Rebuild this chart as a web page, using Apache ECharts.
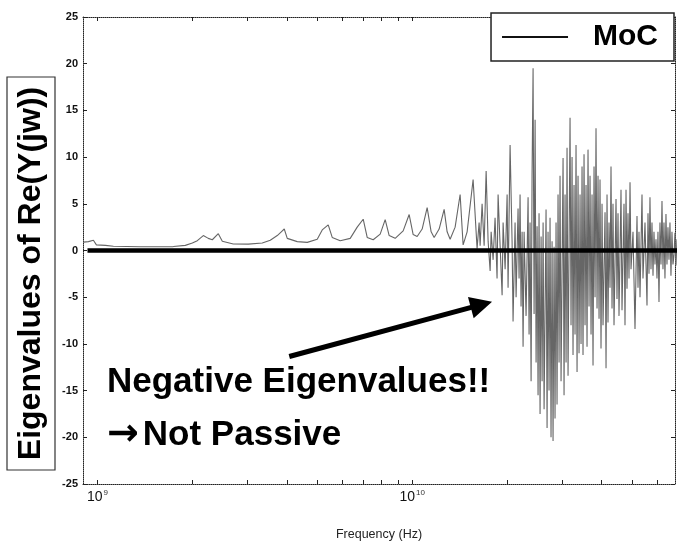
<!DOCTYPE html>
<html>
<head>
<meta charset="utf-8">
<script src="https://cdn.jsdelivr.net/npm/echarts@6/dist/echarts.min.js"></script>
<style>
  html, body { margin: 0; padding: 0; background: #fff; }
  #chart { width: 677px; height: 546px; }
</style>
</head>
<body>
<div id="chart"></div>
<script>
// Eigenvalues of Re(Y(jw)) from the MoC model, frequency in GHz.
// Below ~16 GHz: smooth curve with resonance peaks.
const lowFreqGHz = [
  0.9027, 0.9363, 0.9712, 0.9927, 1.0602, 1.1241, 1.3693, 1.7429, 1.9027, 2.0026,
  2.0771, 2.1702, 2.2510, 2.3178, 2.4217, 2.4936, 2.7024, 3.0156, 3.3405, 3.5417,
  3.7277, 3.8383, 3.9234, 4.0104, 4.3145, 4.6417, 4.9937, 5.1796, 5.4118, 5.5724,
  5.9079, 6.3560, 6.6897, 6.9896, 7.1970, 7.5197, 7.9145, 8.2091, 8.4527, 8.8317,
  9.3634, 9.7832, 10.0735, 10.3724, 10.7585, 11.1590, 11.4901, 11.7448, 12.1820, 12.6354,
  12.9156, 13.2020, 13.6935, 14.2031, 14.5180, 14.9488, 15.6190
];
const lowEig = [
  0.9, 0.95, 1.1, 0.6, 0.55, 0.45, 0.4, 0.42, 0.55, 0.8,
  1.05, 1.6, 1.3, 1.15, 1.8, 1.0, 0.7, 0.68, 0.8, 1.1,
  1.6, 2.0, 2.3, 1.3, 0.95, 0.87, 1.2, 2.2, 2.75, 1.4,
  1.05, 1.3, 2.5, 3.35, 1.4, 1.15, 1.75, 3.3, 1.6, 1.3,
  2.1, 3.85, 1.7, 1.5, 2.3, 4.6, 2.0, 1.4, 2.3, 4.4,
  2.0, 1.2, 2.5, 6.0, 0.6, 2.0, 7.6
];

// Above ~16 GHz: dense oscillation between positive and negative eigenvalues.
const highFreqGHz = [
  16.08, 16.32, 16.44, 16.68, 16.93, 17.18, 17.43, 17.69, 17.82, 18.08,
  18.34, 18.61, 18.75, 19.03, 19.31, 19.45, 19.74, 20.03, 20.17, 20.47,
  20.77, 20.92, 21.23, 21.39, 21.70, 21.86, 22.02, 22.18, 22.35, 22.51,
  22.68, 23.01, 23.35, 23.52, 23.69, 23.87, 24.04, 24.22, 24.40, 24.58,
  24.76, 24.94, 25.12, 25.30, 25.49, 25.68, 25.87, 26.06, 26.25, 26.63,
  26.83, 27.02, 27.22, 27.42, 27.62, 27.83, 28.03, 28.24, 28.44, 28.65,
  28.86, 29.07, 29.29, 29.50, 29.72, 30.16, 30.38, 30.60, 30.83, 31.05,
  31.28, 31.74, 31.97, 32.21, 32.44, 32.68, 32.92, 33.16, 33.41, 33.65,
  33.90, 34.15, 34.40, 34.65, 34.90, 35.16, 35.42, 35.68, 35.94, 36.20,
  36.47, 36.74, 37.01, 37.28, 37.55, 37.83, 38.11, 38.38, 38.67, 38.95,
  39.24, 39.52, 39.81, 40.11, 40.40, 41.00, 41.30, 41.60, 41.90, 42.21,
  42.52, 42.83, 43.15, 43.46, 43.78, 44.43, 44.75, 45.08, 45.41, 46.08,
  46.42, 47.10, 47.45, 47.80, 48.15, 48.50, 48.86, 49.22, 49.58, 50.31,
  51.05, 51.80, 52.18, 52.56, 52.95, 53.73, 54.12, 54.92, 55.73, 56.14,
  56.55, 56.96, 57.38, 57.80, 58.23, 58.65, 59.08, 59.52, 59.95, 60.39,
  60.84, 61.28, 61.73, 62.19, 62.64, 63.10, 63.56, 64.03, 64.50, 64.97,
  65.45, 65.93, 66.41, 66.90, 67.39, 67.89, 68.38, 68.89, 69.39
];
const highEig = [
  0.2, 3.0, 0.5, 5.0, 0.5, 8.5, 1.0, -2.2, 2.0, -1.0,
  3.5, -3.0, 6.0, 0.5, -4.8, 3.0, -2.0, 6.0, -4.0, 11.3,
  1.0, -7.6, 3.0, -5.0, 4.5, -3.0, 6.0, -6.0, 2.0, -10.3,
  2.0, -7.0, 5.7, -9.0, 3.0, -14.0, 8.0, 19.5, -6.8, 14.0,
  -12.0, 2.6, -15.5, 4.0, -17.5, 1.5, -14.0, 3.0, -17.0, 4.4,
  -19.0, 2.0, -15.0, 3.5, -20.0, 1.0, -20.4, 0.4, -18.0, 3.0,
  -16.5, 6.0, -12.0, 8.0, -14.0, 9.9, -15.5, 6.0, -12.0, 11.0,
  -13.4, 14.2, -8.0, 10.0, -11.2, 7.0, -9.0, 11.3, -13.0, 8.0,
  -11.0, 6.0, -10.0, 9.0, -11.2, 10.3, -8.0, 7.0, -10.3, 10.8,
  -6.0, 8.0, -9.0, 6.0, -12.3, 9.0, -5.0, 13.1, -6.2, 8.0,
  -7.3, 7.6, -10.5, 5.0, -8.0, 4.1, -12.6, 6.0, -7.7, 3.0,
  -4.0, 9.0, -6.2, 5.0, -8.0, 5.5, -5.2, 4.0, -7.0, 6.5,
  -6.4, 5.0, -8.0, 6.5, -4.1, 4.0, -3.0, 7.3, -2.0, 2.0,
  -8.4, 3.7, -4.0, 2.0, -5.0, 6.0, -3.0, 3.0, -5.9, 4.0,
  -2.5, 5.7, -2.0, 3.0, -2.7, 2.0, -1.5, 1.2, -3.0, 2.0,
  -5.5, 3.0, -1.5, 5.3, -2.0, 3.0, -3.0, 3.9, -1.5, 2.5,
  -1.0, 3.0, -2.7, 2.0, -1.5, -0.5, 1.9, -1.6, 1.2
];

// Cluster of eigenvalues lying on zero across the band.
const zeroFreqGHz = [0.93, 69.4];
const zeroEig = [0, 0];

// Annotation arrow: from the caption towards the negative region (GHz, value).
const arrowFromGHz = 4.07, arrowFromVal = -11.35;
const arrowToGHz = 16.6, arrowToVal = -5.8;

// Axis ticks
const xLabelTicksHz = [1e9, 1e10];
const xTickHz = [1e9, 2e9, 3e9, 4e9, 5e9, 6e9, 7e9, 8e9, 9e9,
                 1e10, 2e10, 3e10, 4e10, 5e10, 6e10];
const yMin = -25, yMax = 25, yStep = 5;

const GHZ = 1e9;
const zip = (fs, vs) => fs.map((f, i) => [f * GHZ, vs[i]]);
const mocData = zip(lowFreqGHz, lowEig).concat(zip(highFreqGHz, highEig));
const zeroData = zip(zeroFreqGHz, zeroEig);

const FONT = '"Liberation Sans", Arial, Helvetica, sans-serif';
const frameLine = { color: '#222', type: 'dotted', width: 1 };

function xAxisDef(pos) {
  const bottom = pos === 'bottom';
  return {
    type: 'log',
    logBase: 10,
    position: pos,
    min: 0.9e9,
    max: 6.84e10,
    axisLine: { show: true, onZero: false, lineStyle: frameLine },
    axisTick: { show: true, inside: true, length: 4, customValues: xTickHz,
                lineStyle: { color: '#222', width: 1 } },
    minorTick: { show: false },
    splitLine: { show: false },
    axisLabel: bottom ? {
      show: true,
      margin: 5,
      customValues: xLabelTicksHz,
      formatter: v => '{b|10}{s|' + Math.round(Math.log10(v)) + '}',
      rich: {
        b: { fontSize: 14, fontFamily: FONT, color: '#111', lineHeight: 16 },
        s: { fontSize: 8, fontFamily: FONT, color: '#333', lineHeight: 16,
             padding: [0, 0, 9, 1] }
      }
    } : { show: false },
    name: bottom ? 'Frequency (Hz)' : '',
    nameLocation: 'middle',
    nameGap: 44,
    nameTextStyle: { fontSize: 12.5, fontFamily: FONT, color: '#222' }
  };
}

function yAxisDef(pos) {
  const left = pos === 'left';
  return {
    type: 'value',
    position: pos,
    min: yMin, max: yMax, interval: yStep,
    axisLine: { show: true, onZero: false, lineStyle: frameLine },
    axisTick: { show: true, inside: true, length: 4,
                lineStyle: { color: '#222', width: 1 } },
    splitLine: { show: false },
    axisLabel: left ? {
      show: true, margin: 5, fontSize: 11, fontWeight: 'bold',
      fontFamily: FONT, color: '#111'
    } : { show: false }
  };
}

const chart = echarts.init(document.getElementById('chart'), null, { renderer: 'canvas' });

chart.setOption({
  animation: false,
  backgroundColor: '#fff',
  grid: { left: 83, right: 2, top: 17, bottom: 60, containLabel: false },
  xAxis: [xAxisDef('bottom'), xAxisDef('top')],
  yAxis: [yAxisDef('left'), yAxisDef('right')],
  legend: {
    right: 3,
    top: 13,
    orient: 'horizontal',
    padding: [9, 16, 9, 11],
    backgroundColor: '#fff',
    borderColor: '#222',
    borderWidth: 1.5,
    itemWidth: 66,
    itemHeight: 2,
    z: 20,
    data: [{ name: 'MoC', icon: 'rect', itemStyle: { color: '#111', borderWidth: 0 } }],
    textStyle: {
      fontSize: 30, fontWeight: 'bold', fontFamily: FONT, color: '#000',
      padding: [0, 0, 0, 20]
    }
  },
  series: [
    {
      name: 'MoC',
      type: 'line',
      xAxisIndex: 0, yAxisIndex: 0,
      data: mocData,
      showSymbol: false,
      symbol: 'none',
      clip: true,
      lineStyle: { color: '#666', width: 1.1 },
      z: 2
    },
    {
      name: 'zero',
      type: 'line',
      xAxisIndex: 0, yAxisIndex: 0,
      data: zeroData,
      showSymbol: false,
      symbol: 'none',
      clip: true,
      lineStyle: { color: '#000', width: 4.5 },
      z: 3,
      markLine: {
        silent: true,
        symbol: ['none', 'triangle'],
        symbolSize: 22,
        label: { show: false },
        lineStyle: { color: '#000', width: 5, type: 'solid' },
        data: [[
          { coord: [arrowFromGHz * GHZ, arrowFromVal] },
          { coord: [arrowToGHz * GHZ, arrowToVal] }
        ]]
      }
    }
  ],
  graphic: [
    {
      type: 'rect',
      shape: { x: 7, y: 77, width: 48, height: 393 },
      style: { fill: '#fff', stroke: '#333', lineWidth: 1.2 },
      z: 10
    },
    {
      type: 'text',
      x: 31, y: 273.5,
      rotation: Math.PI / 2,
      style: {
        text: 'Eigenvalues of Re(Y(jw))',
        fontSize: 32, fontWeight: 'bold', fontFamily: FONT, fill: '#000',
        align: 'center', verticalAlign: 'middle',
        textAlign: 'center', textVerticalAlign: 'middle'
      },
      z: 11
    },
    {
      type: 'text',
      x: 107, y: 382,
      style: {
        text: 'Negative Eigenvalues!!',
        fontSize: 35, fontWeight: 'bold', fontFamily: FONT, fill: '#000',
        align: 'left', verticalAlign: 'middle',
        textAlign: 'left', textVerticalAlign: 'middle'
      },
      z: 11
    },
    {
      type: 'text',
      x: 107, y: 435,
      style: {
        text: '{a|\u2192}{t|Not Passive}',
        align: 'left', verticalAlign: 'middle',
        textAlign: 'left', textVerticalAlign: 'middle',
        rich: {
          a: { fontSize: 38, fontWeight: 'bold', fontFamily: '"DejaVu Sans", sans-serif',
               fill: '#000', padding: [0, 4, 0, 0] },
          t: { fontSize: 35, fontWeight: 'bold', fontFamily: FONT, fill: '#000' }
        }
      },
      z: 11
    }
  ]
});
</script>
</body>
</html>
